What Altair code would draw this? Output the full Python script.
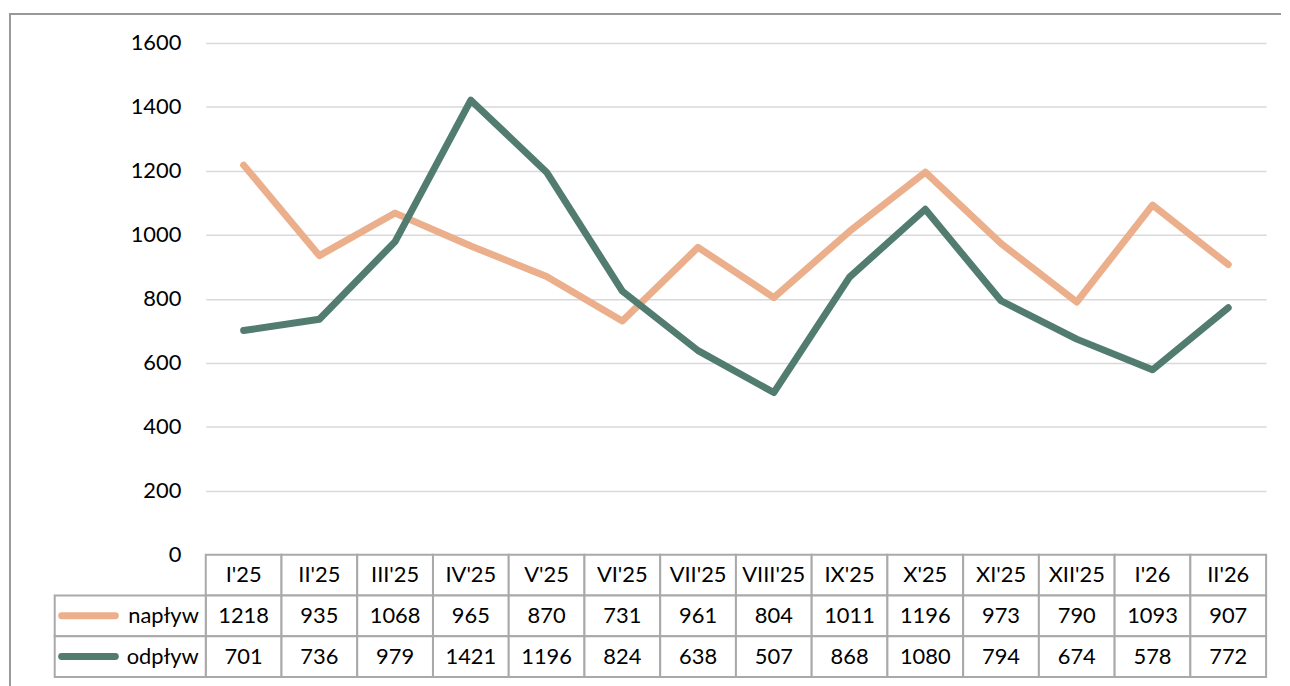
import altair as alt
import pandas as pd

months = ["I'25", "II'25", "III'25", "IV'25", "V'25", "VI'25", "VII'25",
          "VIII'25", "IX'25", "X'25", "XI'25", "XII'25", "I'26", "II'26"]
naplyw = [1218, 935, 1068, 965, 870, 731, 961, 804, 1011, 1196, 973, 790, 1093, 907]
odplyw = [701, 736, 979, 1421, 1196, 824, 638, 507, 868, 1080, 794, 674, 578, 772]
series = ["napływ", "odpływ"]
colors = ["#EBAF8C", "#527C70"]
y_ticks = [0, 200, 400, 600, 800, 1000, 1200, 1400, 1600]
rows = ["header", "napływ", "odpływ"]

FONT = "Lato"
FS = 22
W = 1067
H_PLOT = 515
H_TAB = 123
GRID = "#d9d9d9"
BORDER = "#a9a9a9"

long_rows = []
for m, a, b in zip(months, naplyw, odplyw):
    long_rows.append({"month": m, "series": "napływ", "value": a})
    long_rows.append({"month": m, "series": "odpływ", "value": b})
df = pd.DataFrame(long_rows)

color_scale = alt.Scale(domain=series, range=colors)

lines = alt.Chart(df).mark_line(strokeWidth=7, strokeCap="round", strokeJoin="round").encode(
    x=alt.X("month:O", sort=months, scale=alt.Scale(type="point", padding=0.5), axis=None),
    y=alt.Y("value:Q", scale=alt.Scale(domain=[0, 1600], nice=False),
            axis=alt.Axis(values=y_ticks, format="d", title=None, domain=False, ticks=False,
                          labelFont=FONT, labelFontSize=FS, labelColor="#000000",
                          labelPadding=25, gridColor=GRID, gridWidth=1.5)),
    color=alt.Color("series:N", scale=color_scale, legend=None),
    detail="series:N",
)

frame_top = alt.Chart(pd.DataFrame({"k": [0]})).mark_rule(color="#999999", strokeWidth=2).encode(
    x=alt.value(-198), x2=alt.value(1082), y=alt.value(-29)
)
frame_left = alt.Chart(pd.DataFrame({"k": [0]})).mark_rule(color="#999999", strokeWidth=2).encode(
    x=alt.value(-197), y=alt.value(-29), y2=alt.value(H_PLOT + H_TAB + 10)
)

top = alt.layer(frame_top, frame_left, lines).properties(width=W, height=H_PLOT)

# table
tab_rows = []
for i, m in enumerate(months):
    tab_rows.append({"month": m, "row": "header", "label": m})
    tab_rows.append({"month": m, "row": "napływ", "label": str(naplyw[i])})
    tab_rows.append({"month": m, "row": "odpływ", "label": str(odplyw[i])})
tdf = pd.DataFrame(tab_rows)

xb = alt.X("month:O", sort=months, scale=alt.Scale(paddingInner=0, paddingOuter=0), axis=None)
yb = alt.Y("row:N", sort=rows, scale=alt.Scale(domain=rows, paddingInner=0, paddingOuter=0), axis=None)

cells = alt.Chart(tdf).mark_rect(fill="white", stroke=BORDER, strokeWidth=2).encode(x=xb, y=yb)
texts = alt.Chart(tdf).mark_text(font=FONT, fontSize=FS, color="#000000", baseline="middle").encode(
    x=xb, y=yb, text="label:N"
)

ldf = pd.DataFrame({"row": series, "series": series})
leg_cells = alt.Chart(ldf).mark_rect(fill="white", stroke=BORDER, strokeWidth=2).encode(
    x=alt.value(-152), x2=alt.value(0), y=yb
)
leg_swatch = alt.Chart(ldf).mark_rule(strokeWidth=7, strokeCap="round").encode(
    x=alt.value(-145), x2=alt.value(-91),
    y=alt.Y("row:N", sort=rows, scale=alt.Scale(domain=rows, paddingInner=0, paddingOuter=0),
            axis=None, bandPosition=0.5),
    color=alt.Color("series:N", scale=color_scale, legend=None),
)
leg_text = alt.Chart(ldf).mark_text(font=FONT, fontSize=FS, color="#000000", align="right",
                                    baseline="middle").encode(
    x=alt.value(-7), y=yb, text="series:N"
)

bottom = alt.layer(cells, texts, leg_cells, leg_swatch, leg_text).properties(width=W, height=H_TAB)

chart = alt.vconcat(top, bottom, spacing=0, bounds="flush").properties(
    padding={"left": 0, "top": 3, "right": 0, "bottom": 0}
).configure_view(stroke=None)

chart.save("out.html", embed_options={"renderer": "svg", "actions": False})
